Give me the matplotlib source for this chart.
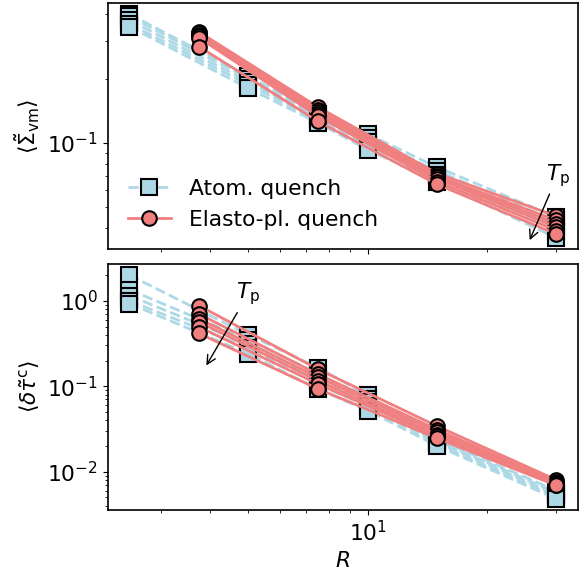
import numpy as np
import matplotlib.pyplot as plt

# R values for the two quench protocols
R_atom = [2.5, 5, 7.5, 10, 15, 30]
R_ep = [3.75, 7.5, 15, 30]

# top panel: <Sigma_vm>
sig_atom = [
    [0.400, 0.205, 0.137, 0.110, 0.077, 0.0450],
    [0.390, 0.200, 0.133, 0.105, 0.074, 0.0430],
    [0.375, 0.193, 0.130, 0.101, 0.071, 0.0410],
    [0.360, 0.187, 0.127, 0.097, 0.069, 0.0390],
    [0.350, 0.180, 0.124, 0.093, 0.066, 0.0360],
]
sig_ep = [
    [0.330, 0.147, 0.072, 0.0455],
    [0.325, 0.143, 0.070, 0.0435],
    [0.320, 0.140, 0.069, 0.0420],
    [0.315, 0.136, 0.068, 0.0405],
    [0.310, 0.133, 0.066, 0.0390],
    [0.282, 0.126, 0.064, 0.0375],
]

# bottom panel: <delta tau^c>
tau_atom = [
    [2.00, 0.40, 0.165, 0.078, 0.024, 0.0060],
    [1.35, 0.35, 0.140, 0.070, 0.023, 0.0057],
    [1.15, 0.31, 0.120, 0.065, 0.022, 0.0054],
    [1.00, 0.28, 0.105, 0.058, 0.021, 0.0051],
    [0.93, 0.24, 0.092, 0.052, 0.020, 0.0048],
]
tau_ep = [
    [0.877, 0.158, 0.0340, 0.0080],
    [0.700, 0.138, 0.0310, 0.0076],
    [0.617, 0.127, 0.0290, 0.0073],
    [0.565, 0.116, 0.0270, 0.0071],
    [0.495, 0.106, 0.0260, 0.0070],
    [0.415, 0.093, 0.0245, 0.0069],
]

plt.rcParams['font.size'] = 15.7
plt.rcParams['axes.linewidth'] = 1.2

fig, (ax1, ax2) = plt.subplots(2, 1, sharex=True, figsize=(5.79, 5.85), dpi=100)
fig.subplots_adjust(left=0.1865, right=0.998, top=0.995, bottom=0.128, hspace=0.06)

blue = 'lightblue'
red = 'lightcoral'


def draw(ax, atom, ep):
    for i, y in enumerate(atom):
        ax.plot(R_atom, y, '--s', color=blue, lw=2, ms=11, mfc=blue, mec='k', mew=1.5,
                label='Atom. quench' if i == 0 else None)
    for i, y in enumerate(ep):
        ax.plot(R_ep, y, '-o', color=red, lw=2, ms=10.5, mfc=red, mec='k', mew=1.5,
                label='Elasto-pl. quench' if i == 0 else None)
    ax.set_xscale('log')
    ax.set_yscale('log')


draw(ax1, sig_atom, sig_ep)
draw(ax2, tau_atom, tau_ep)

ax1.set_ylabel(r'$\langle \tilde{\Sigma}_{\rm vm} \rangle$')
ax2.set_ylabel(r'$\langle \delta \tilde{\tau}^{\rm c} \rangle$')
ax2.set_xlabel(r'$R$')

ax1.legend(loc='lower left', frameon=False)

ax1.annotate(r'$T_{\rm p}$', xy=(25.5, 0.0342), xytext=(30.2, 0.0706),
             ha='center', va='center',
             arrowprops=dict(arrowstyle='->', color='k', lw=1))
ax2.annotate(r'$T_{\rm p}$', xy=(3.88, 0.164), xytext=(4.99, 1.2),
             ha='center', va='center',
             arrowprops=dict(arrowstyle='->', color='k', lw=1))

plt.savefig('out.png')
